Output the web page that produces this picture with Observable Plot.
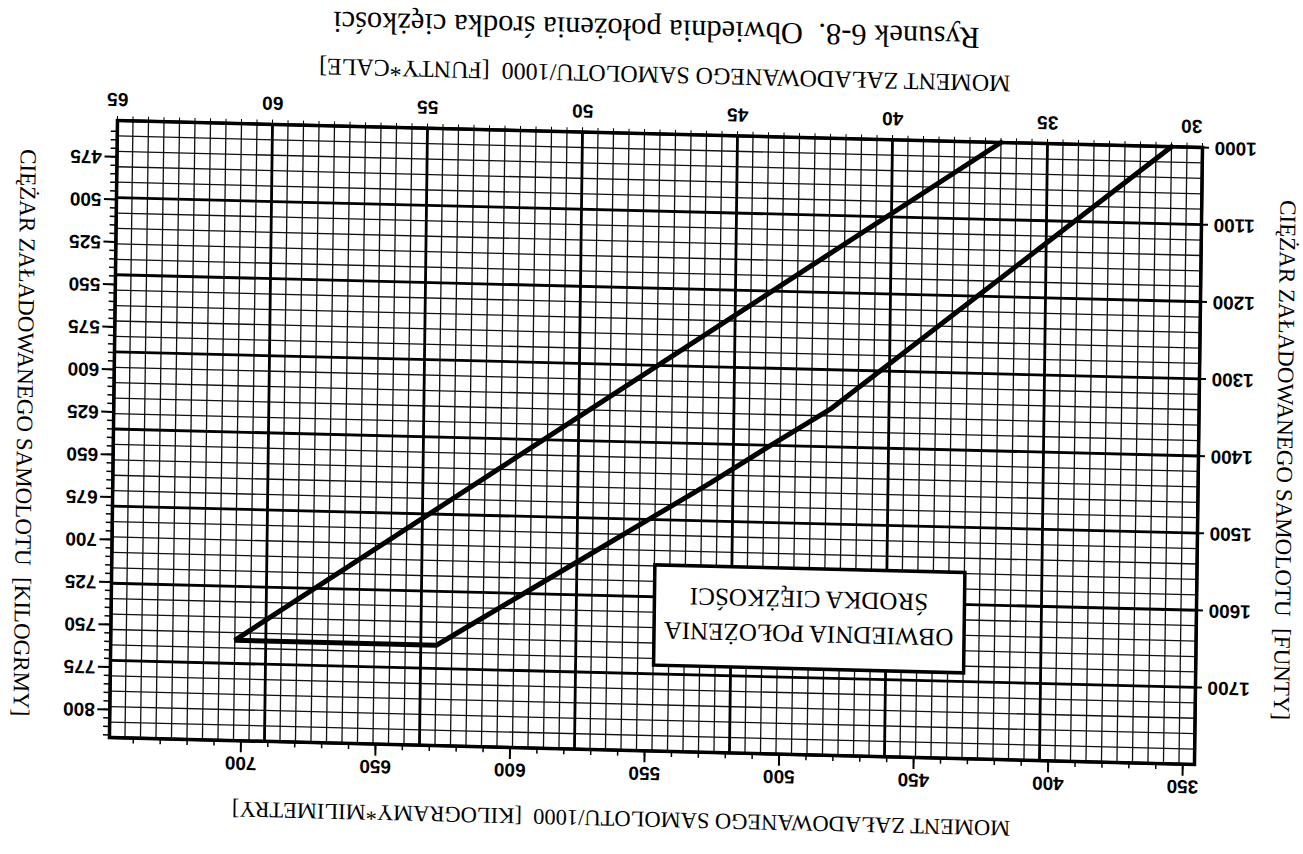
<!DOCTYPE html>
<html>
<head>
<meta charset="utf-8">
<script src="https://cdn.jsdelivr.net/npm/d3@7"></script>
<script src="https://cdn.jsdelivr.net/npm/@observablehq/plot@0.6"></script>
<style>
  html, body { margin: 0; padding: 0; background: #fff; overflow: hidden; }
  #wrap {
    position: absolute; left: 0; top: 0; width: 1303px; height: 854px;
    transform-origin: 0 0;
    /* the scanned page is upside down and slightly skewed */
    transform: matrix(-1, -0.0249, 0.013, -1, 1301.8, 856.7);
  }
</style>
</head>
<body>
<div id="wrap"></div>
<script>
// ---- data ----
const inLbLabels = [30, 35, 40, 45, 50, 55, 60, 65];            // moment/1000 [lb*in]
const kgMmLabels = [350, 400, 450, 500, 550, 600, 650, 700];    // moment/1000 [kg*mm]
const lbLabels = [1000, 1100, 1200, 1300, 1400, 1500, 1600, 1700];
const kgLabels = [475, 500, 525, 550, 575, 600, 625, 650, 675, 700, 725, 750, 775, 800];

// envelope (forward limit, gross weight line, aft limit)
const envelopeMoment = [31.0, 41.85, 43.8, 45.7, 47.7, 49.7, 51.7, 53.7, 54.5, 61.0, 36.5];
const envelopeWeight = [1000, 1350, 1400, 1450, 1500, 1550, 1600, 1650, 1670, 1670, 1000];

const legendLines = ["OBWIEDNIA POŁOŻENIA", "ŚRODKA CIĘŻKOŚCI"];
const captionText = "Rysunek 6-8.\u00a0\u00a0Obwiednia położenia środka ciężkości";
const xTitle = "MOMENT ZAŁADOWANEGO SAMOLOTU/1000\u00a0\u00a0[FUNTY*CALE]";
const x2Title = "MOMENT ZAŁADOWANEGO SAMOLOTU/1000\u00a0\u00a0[KILOGRAMY*MILIMETRY]";
const yTitle = "CIĘŻAR ZAŁADOWANEGO SAMOLOTU\u00a0\u00a0[FUNTY]";
const y2Title = "CIĘŻAR ZAŁADOWANEGO SAMOLOTU\u00a0\u00a0[KILOGRMY]";

// unit conversions for the secondary axes
const KGMM_PER_INLB = 11.521;
const KG_PER_LB = 0.45359237;

const envelope = envelopeMoment.map((m, i) => ({moment: m, weight: envelopeWeight[i]}));

const X0 = 30, X1 = 65, Y0 = 1000, Y1 = 1800;
const thinX = d3.range(X0, X1 + 0.01, 0.5);
const thinY = d3.range(Y0, Y1 + 0.1, 20);
const thickX = inLbLabels;
const thickY = d3.range(Y0, Y1 + 1, 100);

const kgMmMinor = d3.range(350, 750, 10).map(k => k / KGMM_PER_INLB);
const kgMajor = kgLabels.map(k => k / KG_PER_LB);
const kgMinor = d3.range(460, 816, 5).map(k => k / KG_PER_LB).filter(v => v >= Y0 && v <= Y1);

const tickFont = {fontFamily: "Liberation Sans, Arial, sans-serif", fontWeight: "bold", fontSize: 19};
const serif = "Liberation Serif, Times New Roman, serif";

// legend box placement (in chart units)
const box = {x1: 37.5, x2: 47.5, y1: 1558, y2: 1688};

const chart = Plot.plot({
  width: 1303,
  height: 854,
  marginLeft: 108,
  marginRight: 110,
  marginTop: 89,
  marginBottom: 148,
  x: {domain: [X0, X1]},
  y: {domain: [Y0, Y1]},
  style: {background: "white", color: "black", overflow: "visible"},
  marks: [
    Plot.ruleX(thinX, {stroke: "#111", strokeWidth: 1.3}),
    Plot.ruleY(thinY, {stroke: "#111", strokeWidth: 1.3}),
    Plot.ruleX(thickX, {stroke: "black", strokeWidth: 2.8}),
    Plot.ruleY(thickY, {stroke: "black", strokeWidth: 2.8}),
    Plot.frame({stroke: "black", strokeWidth: 3.5}),
    Plot.line(envelope, {x: "moment", y: "weight", stroke: "black", strokeWidth: 5, strokeLinejoin: "miter"}),
    Plot.rect([box], {x1: "x1", x2: "x2", y1: "y1", y2: "y2", fill: "white", stroke: "black", strokeWidth: 3.5}),
    Plot.text(legendLines, {
      text: d => d,
      x: () => (box.x1 + box.x2) / 2,
      y: (d, i) => (i === 0 ? 1643 : 1598),
      fontFamily: serif, fontSize: 25, fill: "black"
    }),
    // bottom axis: moment lb*in
    Plot.axisX(thinX, {anchor: "bottom", tickSize: 5, tickFormat: () => "", label: null}),
    Plot.axisX(inLbLabels.slice(1), {anchor: "bottom", tickSize: 5, tickPadding: 9, label: null, tickFormat: d => String(d), ...tickFont}),
    Plot.axisX(inLbLabels.slice(0, 1), {anchor: "bottom", tickSize: 0, tickPadding: 14, dx: 11, label: null, tickFormat: d => String(d), ...tickFont}),
    // top axis: moment kg*mm
    Plot.axisX(kgMmMinor, {anchor: "top", tickSize: 6, tickFormat: () => "", label: null, strokeWidth: 1.5}),
    Plot.axisX(kgMmLabels.map(k => k / KGMM_PER_INLB), {
      anchor: "top", tickSize: 12, tickPadding: 4, strokeWidth: 2, label: null,
      tickFormat: d => String(Math.round(d * KGMM_PER_INLB)), ...tickFont
    }),
    // left axis: weight lb
    Plot.axisY(lbLabels, {anchor: "left", tickSize: 6, tickPadding: 6, label: null, strokeWidth: 2, tickFormat: d => String(d), ...tickFont}),
    // right axis: weight kg
    Plot.axisY(kgMinor, {anchor: "right", tickSize: 6, tickFormat: () => "", label: null, strokeWidth: 1.5}),
    Plot.axisY(kgMajor, {
      anchor: "right", tickSize: 12, tickPadding: 3, strokeWidth: 2, label: null,
      tickFormat: d => String(Math.round(d * KG_PER_LB)), ...tickFont
    }),
    // titles
    Plot.text([xTitle], {text: d => d, frameAnchor: "bottom", textAnchor: "middle", dx: -4, dy: 67, fontFamily: serif, fontSize: 24, fill: "black"}),
    Plot.text([captionText], {text: d => d, frameAnchor: "bottom", textAnchor: "middle", dx: 5, dy: 114, fontFamily: serif, fontSize: 30.5, fill: "black"}),
    Plot.text([x2Title], {text: d => d, frameAnchor: "top", textAnchor: "middle", dx: 30, dy: -77, fontFamily: serif, fontSize: 22.5, fill: "black"}),
    Plot.text([yTitle], {text: d => d, frameAnchor: "left", textAnchor: "middle", rotate: -90, dx: -86, dy: -2, fontFamily: serif, fontSize: 23, fill: "black"}),
    Plot.text([y2Title], {text: d => d, frameAnchor: "right", textAnchor: "middle", rotate: -90, dx: 89, dy: -6, fontFamily: serif, fontSize: 23, fill: "black"})
  ]
});

document.getElementById("wrap").appendChild(chart);
</script>
</body>
</html>
